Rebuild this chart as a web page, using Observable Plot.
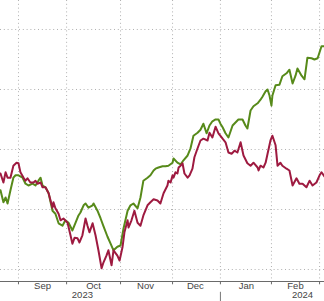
<!DOCTYPE html>
<html>
<head>
<meta charset="utf-8">
<script src="https://cdn.jsdelivr.net/npm/d3@7"></script>
<script src="https://cdn.jsdelivr.net/npm/@observablehq/plot@0.6"></script>
<style>
  html, body { margin: 0; padding: 0; background: #fff; }
  #chart svg { display: block; }
</style>
</head>
<body>
<div id="chart"></div>
<script>
// x = trading-day index (0 = left edge of the visible window), y = index level
const greenSeries = [
  [0,93.2],[1.2,91.2],[2.1,92.0],[2.9,91.0],[4.1,93.2],[5.3,95.3],[6.2,95.7],[7.4,95.7],
  [9.1,95.3],[10.3,94.3],[11.5,94.0],[13.2,94.3],[14.4,94.0],[15.6,94.8],[16.5,95.3],[17.3,94.0],
  [18.5,93.7],[19.8,92.7],[21.4,89.8],[22.6,89.3],[23.9,87.7],[25.5,87.3],[26.7,88.2],[28.0,87.8],
  [29.6,86.5],[30.9,87.8],[32.1,89.0],[32.9,89.5],[34.2,90.7],[35.0,91.0],[36.2,90.3],[37.9,90.7],
  [38.3,91.0],[39.9,89.8],[41.2,88.5],[42.4,87.2],[44.0,85.5],[45.3,84.3],[46.5,83.2],[48.1,83.8],
  [49.4,84.0],[50.6,86.8],[52.3,89.8],[53.5,90.7],[54.7,91.0],[56.4,90.2],[57.6,92.0],[58.8,94.8],
  [60.5,95.3],[61.7,95.7],[63.0,96.5],[63.8,96.8],[65.0,97.0],[66.7,97.2],[67.9,97.2],[69.1,97.3],
  [70.8,97.8],[71.2,98.5],[72.8,97.8],[74.1,97.5],[75.3,98.2],[77.0,99.0],[78.2,100.2],[79.4,102.3],
  [81.1,102.8],[82.3,103.3],[83.5,104.3],[84.8,102.7],[86.0,104.0],[87.2,104.7],[88.5,105.0],[89.7,105.0],
  [90.5,104.3],[91.4,103.7],[92.6,102.7],[93.8,102.0],[95.5,104.0],[96.7,104.5],[97.9,105.0],[99.6,105.0],
  [100.8,104.0],[101.6,103.5],[102.9,106.5],[104.1,107.2],[105.8,107.7],[107.0,108.3],[107.8,108.8],[109.1,109.7],
  [109.9,110.0],[110.7,109.0],[111.5,107.3],[111.9,109.0],[113.2,110.7],[114.8,110.8],[116.0,112.2],[117.7,112.7],
  [118.9,113.3],[120.2,111.0],[121.4,112.3],[122.2,113.5],[123.9,112.3],[125.1,111.7],[126.3,115.3],[128.0,115.2],
  [129.2,115.0],[130.5,115.2],[132.1,117.2],[133.3,117.2]
];
const redSeries = [
  [0,96.0],[1.2,94.5],[2.1,96.2],[2.9,95.3],[4.1,95.3],[5.3,97.3],[6.6,97.8],[7.4,97.7],
  [8.2,96.2],[9.5,95.3],[10.3,94.8],[11.1,95.2],[12.3,94.5],[13.6,94.5],[14.4,94.8],[15.2,94.3],
  [16.5,94.5],[17.3,93.7],[18.5,93.7],[19.8,92.7],[21.4,90.3],[21.8,91.2],[22.6,90.2],[23.9,89.3],
  [24.7,88.2],[25.9,88.5],[27.6,87.8],[28.8,85.7],[29.6,84.3],[30.5,85.3],[31.7,85.2],[32.5,84.5],
  [33.7,85.7],[35.0,88.5],[35.8,87.3],[36.6,86.2],[37.9,87.7],[39.1,85.7],[40.3,83.2],[41.6,80.2],
  [42.4,81.2],[43.6,82.3],[44.4,83.2],[45.7,80.7],[46.5,83.2],[48.1,82.3],[49.0,81.5],[50.2,83.7],
  [51.0,86.2],[52.3,88.2],[52.7,87.0],[53.9,88.2],[55.1,89.8],[56.4,87.8],[57.6,87.3],[58.8,89.0],
  [60.5,90.7],[61.7,91.2],[63.0,91.7],[64.6,91.5],[65.8,91.0],[67.1,92.7],[68.7,94.0],[69.1,94.8],
  [70.0,94.5],[70.8,95.7],[71.2,95.3],[72.0,96.2],[72.8,96.0],[73.3,97.0],[74.1,97.3],[74.9,97.7],
  [75.7,96.0],[77.0,95.3],[77.8,95.7],[79.0,96.8],[79.8,98.7],[81.1,100.2],[82.3,101.5],[83.5,101.8],
  [85.2,101.5],[86.0,102.8],[87.2,102.0],[88.5,103.8],[89.7,102.7],[91.4,101.8],[92.6,101.2],[93.8,99.5],
  [95.1,99.3],[96.3,99.8],[97.5,99.5],[98.8,101.2],[100.0,99.0],[101.6,97.7],[102.9,97.3],[104.1,97.8],
  [105.8,97.0],[106.2,96.5],[107.0,97.3],[108.2,97.0],[109.1,97.8],[109.9,99.3],[111.1,101.5],[111.9,102.3],
  [113.2,100.7],[114.0,97.3],[115.2,97.8],[116.0,97.3],[117.7,96.8],[118.9,96.5],[120.2,94.0],[121.8,95.2],
  [123.0,94.3],[124.3,94.3],[125.9,93.7],[127.2,94.8],[128.4,94.0],[130.0,94.5],[131.3,95.7],[132.1,96.2],
  [133.3,95.5]
];
const monthStarts = [7.4, 27.2, 49.4, 70.8, 90.5, 111.5, 131.3];
const monthLabels = ["Sep", "Oct", "Nov", "Dec", "Jan", "Feb"];
const monthLabelPos = [17.3, 38.3, 59.7, 80.2, 101.2, 121.4];
const yearLabels = ["2023", "2024"];
const yearLabelPos = [33.7, 124.3];
const yearBoundary = [90.5];
const gridValues = [80, 90, 100, 110, 120];

const monthData = monthLabels.map((t, i) => ({x: monthLabelPos[i], t}));
const yearData = yearLabels.map((t, i) => ({x: yearLabelPos[i], t}));

const chart = Plot.plot({
  width: 324,
  height: 301,
  marginLeft: 0,
  marginRight: 0,
  marginTop: 0,
  marginBottom: 20,
  style: {fontFamily: "Liberation Sans, Arial, sans-serif", background: "#fff"},
  x: {domain: [0, 133.33], axis: null},
  y: {domain: [78, 124.83], axis: null},
  marks: [
    Plot.ruleY(gridValues, {stroke: "#b0b0b0", strokeDasharray: "1,2.8", strokeWidth: 1}),
    Plot.ruleX(monthStarts, {stroke: "#b0b0b0", strokeDasharray: "1,2.8", strokeWidth: 1}),
    Plot.line(greenSeries, {x: d => d[0], y: d => d[1], stroke: "#578a1a", strokeWidth: 2, curve: "linear"}),
    Plot.line(redSeries, {x: d => d[0], y: d => d[1], stroke: "#9e1a40", strokeWidth: 2, curve: "linear"}),
    Plot.ruleY([78], {stroke: "#6a6a6a", strokeWidth: 1}),
    Plot.ruleX(monthStarts, {y1: 78, y2: 77.45, stroke: "#6a6a6a", strokeWidth: 1}),
    Plot.text(monthData, {x: "x", text: "t", frameAnchor: "bottom", dy: 7, fill: "#444", fontSize: 9.5}),
    Plot.text(yearData, {x: "x", text: "t", frameAnchor: "bottom", dy: 16.5, fill: "#444", fontSize: 9.5}),
    Plot.ruleX(yearBoundary, {y1: 76.2, y2: 74.6, stroke: "#777", strokeWidth: 1})
  ]
});
document.getElementById("chart").appendChild(chart);
</script>
</body>
</html>
